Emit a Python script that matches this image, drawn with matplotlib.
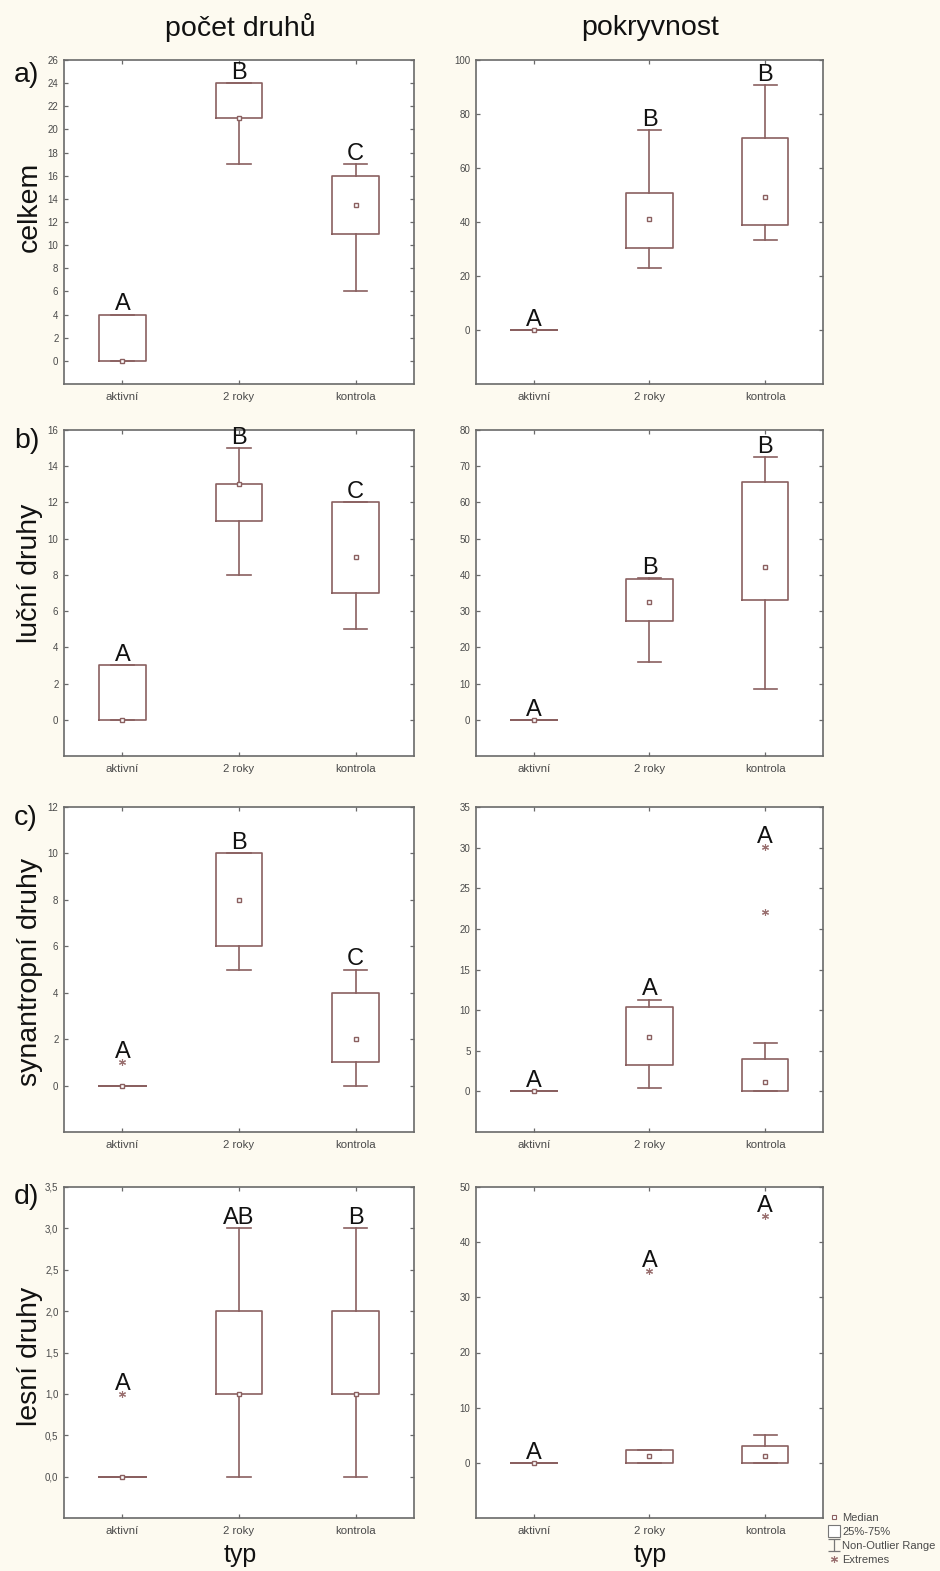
import matplotlib
matplotlib.use('Agg')
import matplotlib.pyplot as plt
from matplotlib.lines import Line2D
from matplotlib.path import Path
from matplotlib.ticker import FuncFormatter

plt.rcParams['font.family'] = ['Liberation Sans', 'DejaVu Sans']

groups = ['aktivní', '2 roky', 'kontrola']

# celkem - počet druhů
celkem_n_q1 = [0, 21, 11]
celkem_n_med = [0, 21, 13.5]
celkem_n_q3 = [4, 24, 16]
celkem_n_lo = [0, 17, 6]
celkem_n_hi = [4, 24, 17]
celkem_n_ext = [[], [], []]
celkem_n_let = ['A', 'B', 'C']

# celkem - pokryvnost
celkem_p_q1 = [0, 30.4, 38.9]
celkem_p_med = [0, 41.1, 49.3]
celkem_p_q3 = [0, 50.7, 71.1]
celkem_p_lo = [0, 23.0, 33.3]
celkem_p_hi = [0, 74.1, 90.7]
celkem_p_ext = [[], [], []]
celkem_p_let = ['A', 'B', 'B']

# luční druhy - počet
lucni_n_q1 = [0, 11, 7]
lucni_n_med = [0, 13, 9]
lucni_n_q3 = [3, 13, 12]
lucni_n_lo = [0, 8, 5]
lucni_n_hi = [3, 15, 12]
lucni_n_ext = [[], [], []]
lucni_n_let = ['A', 'B', 'C']

# luční druhy - pokryvnost
lucni_p_q1 = [0, 27.3, 33.1]
lucni_p_med = [0, 32.6, 42.2]
lucni_p_q3 = [0, 38.9, 65.6]
lucni_p_lo = [0, 16.0, 8.6]
lucni_p_hi = [0, 39.2, 72.6]
lucni_p_ext = [[], [], []]
lucni_p_let = ['A', 'B', 'B']

# synantropní druhy - počet
synan_n_q1 = [0, 6, 1]
synan_n_med = [0, 8, 2]
synan_n_q3 = [0, 10, 4]
synan_n_lo = [0, 5, 0]
synan_n_hi = [0, 10, 5]
synan_n_ext = [[1], [], []]
synan_n_let = ['A', 'B', 'C']

# synantropní druhy - pokryvnost
synan_p_q1 = [0, 3.3, 0.1]
synan_p_med = [0, 6.7, 1.1]
synan_p_q3 = [0, 10.4, 4.0]
synan_p_lo = [0, 0.4, 0]
synan_p_hi = [0, 11.3, 6.0]
synan_p_ext = [[], [], [22.1, 30.1]]
synan_p_let = ['A', 'A', 'A']

# lesní druhy - počet
lesni_n_q1 = [0, 1, 1]
lesni_n_med = [0, 1, 1]
lesni_n_q3 = [0, 2, 2]
lesni_n_lo = [0, 0, 0]
lesni_n_hi = [0, 3, 3]
lesni_n_ext = [[1], [], []]
lesni_n_let = ['A', 'AB', 'B']

# lesní druhy - pokryvnost
lesni_p_q1 = [0, 0, 0]
lesni_p_med = [0, 1.2, 1.2]
lesni_p_q3 = [0, 2.3, 3.0]
lesni_p_lo = [0, 0, 0]
lesni_p_hi = [0, 2.3, 5.0]
lesni_p_ext = [[], [34.7], [44.8]]
lesni_p_let = ['A', 'A', 'A']

BOX = '#8a6060'
SPINE = '#6a6a6a'
TXT = '#4a4a4a'
BG = '#fdfaf0'

W, H = 940, 1571
fig = plt.figure(figsize=(W / 100, H / 100), dpi=100, facecolor=BG)


def rect(x0, y0, x1, y1):
    # pixel box -> figure fraction
    return [x0 / W, 1 - y1 / H, (x1 - x0) / W, (y1 - y0) / H]


def draw_panel(ax, q1, med, q3, lo, hi, ext, letters, ylim, yticks, comma=False):
    stats = []
    for i in range(len(groups)):
        stats.append(dict(q1=q1[i], med=med[i], q3=q3[i], whislo=lo[i], whishi=hi[i], fliers=ext[i]))
    ax.bxp(stats, positions=[0, 1, 2], widths=0.4, capwidths=0.2, showfliers=True,
           boxprops=dict(color=BOX, linewidth=1.2),
           whiskerprops=dict(color=BOX, linewidth=1.2),
           capprops=dict(color=BOX, linewidth=1.2),
           medianprops=dict(linewidth=0),
           flierprops=dict(marker=(6, 2, 0), markersize=5, markeredgecolor='#9a7070', markeredgewidth=0.8, linestyle='none'))
    ax.plot([0, 1, 2], med, ls='none', marker='s', ms=3.5, mfc='white', mec=BOX, mew=1.0, zorder=5)
    for i in range(len(groups)):
        top = max([hi[i], q3[i]] + ext[i])
        ax.annotate(letters[i], (i, top), xytext=(0, 3), textcoords='offset points',
                    ha='center', va='baseline', fontsize=17, color='#111111')
    ax.set_xlim(-0.5, 2.5)
    ax.set_ylim(*ylim)
    ax.set_xticks([0, 1, 2], groups)
    ax.set_yticks(yticks)
    if comma:
        ax.yaxis.set_major_formatter(FuncFormatter(lambda v, p: ('%.1f' % v).replace('.', ',')))
    ax.tick_params(axis='both', direction='in', top=True, right=True, length=3, width=0.9,
                   color=SPINE, labelcolor=TXT)
    ax.tick_params(axis='y', labelsize=7, pad=4)
    ax.tick_params(axis='x', labelsize=8.2, pad=6)
    for s in ax.spines.values():
        s.set_color(SPINE)
        s.set_linewidth(1.2)
    ax.set_facecolor('white')


rows = [(60, 384), (430, 756), (807, 1132), (1187, 1518)]
left_x = (64, 414)
right_x = (476, 823)

ax = fig.add_axes(rect(left_x[0], rows[0][0], left_x[1], rows[0][1]))
draw_panel(ax, celkem_n_q1, celkem_n_med, celkem_n_q3, celkem_n_lo, celkem_n_hi, celkem_n_ext, celkem_n_let,
           (-2, 26), range(0, 27, 2))
ax = fig.add_axes(rect(right_x[0], rows[0][0], right_x[1], rows[0][1]))
draw_panel(ax, celkem_p_q1, celkem_p_med, celkem_p_q3, celkem_p_lo, celkem_p_hi, celkem_p_ext, celkem_p_let,
           (-20, 100), range(0, 101, 20))

ax = fig.add_axes(rect(left_x[0], rows[1][0], left_x[1], rows[1][1]))
draw_panel(ax, lucni_n_q1, lucni_n_med, lucni_n_q3, lucni_n_lo, lucni_n_hi, lucni_n_ext, lucni_n_let,
           (-2, 16), range(0, 17, 2))
ax = fig.add_axes(rect(right_x[0], rows[1][0], right_x[1], rows[1][1]))
draw_panel(ax, lucni_p_q1, lucni_p_med, lucni_p_q3, lucni_p_lo, lucni_p_hi, lucni_p_ext, lucni_p_let,
           (-10, 80), range(0, 81, 10))

ax = fig.add_axes(rect(left_x[0], rows[2][0], left_x[1], rows[2][1]))
draw_panel(ax, synan_n_q1, synan_n_med, synan_n_q3, synan_n_lo, synan_n_hi, synan_n_ext, synan_n_let,
           (-2, 12), range(0, 13, 2))
ax = fig.add_axes(rect(right_x[0], rows[2][0], right_x[1], rows[2][1]))
draw_panel(ax, synan_p_q1, synan_p_med, synan_p_q3, synan_p_lo, synan_p_hi, synan_p_ext, synan_p_let,
           (-5, 35), range(0, 36, 5))

ax = fig.add_axes(rect(left_x[0], rows[3][0], left_x[1], rows[3][1]))
draw_panel(ax, lesni_n_q1, lesni_n_med, lesni_n_q3, lesni_n_lo, lesni_n_hi, lesni_n_ext, lesni_n_let,
           (-0.5, 3.5), [0, 0.5, 1, 1.5, 2, 2.5, 3, 3.5], comma=True)
ax = fig.add_axes(rect(right_x[0], rows[3][0], right_x[1], rows[3][1]))
draw_panel(ax, lesni_p_q1, lesni_p_med, lesni_p_q3, lesni_p_lo, lesni_p_hi, lesni_p_ext, lesni_p_let,
           (-10, 50), range(0, 51, 10))

# column headers
fig.text(240 / W, 1 - 28 / H, 'počet druhů', ha='center', va='center', fontsize=20.5, color='#111111')
fig.text(650 / W, 1 - 28 / H, 'pokryvnost', ha='center', va='center', fontsize=20.5, color='#111111')

# row labels
row_names = ['celkem', 'luční druhy', 'synantropní druhy', 'lesní druhy']
row_y = [207, 573, 972, 1356]
for name, y in zip(row_names, row_y):
    fig.text(30 / W, 1 - y / H, name, rotation=90, ha='center', va='center', fontsize=20.5, color='#111111')

panel_tags = ['a)', 'b)', 'c)', 'd)']
tag_y = [75, 441, 818, 1197]
for tag, y in zip(panel_tags, tag_y):
    fig.text(14 / W, 1 - y / H, tag, ha='left', va='center', fontsize=20.5, color='#111111')

fig.text(240 / W, 1 - 1555 / H, 'typ', ha='center', va='center', fontsize=18, color='#111111')
fig.text(650 / W, 1 - 1555 / H, 'typ', ha='center', va='center', fontsize=18, color='#111111')

# legend
ibeam = Path([(-0.5, 0.5), (0.5, 0.5), (0, 0.5), (0, -0.5), (-0.5, -0.5), (0.5, -0.5)],
             [Path.MOVETO, Path.LINETO, Path.MOVETO, Path.LINETO, Path.MOVETO, Path.LINETO])
handles = [
    Line2D([], [], ls='none', marker='s', ms=3, mfc='white', mec=BOX, mew=0.8),
    Line2D([], [], ls='none', marker='s', ms=9, mfc='white', mec='#777777', mew=0.8),
    Line2D([], [], ls='none', marker=ibeam, ms=9, mec='#777777', mew=0.9),
    Line2D([], [], ls='none', marker=(6, 2, 0), ms=5, mec='#9a7070', mew=0.8),
]
labels = ['Median', '25%-75%', 'Non-Outlier Range', 'Extremes']
leg = fig.legend(handles, labels, loc='upper left', bbox_to_anchor=(828 / W, 1 - 1513 / H), frameon=False,
                 fontsize=8, handlelength=1.0, handletextpad=0.3, labelspacing=0.35, borderpad=0, borderaxespad=0)
for t in leg.get_texts():
    t.set_color(TXT)

fig.savefig('out.png', dpi=100, facecolor=BG)
